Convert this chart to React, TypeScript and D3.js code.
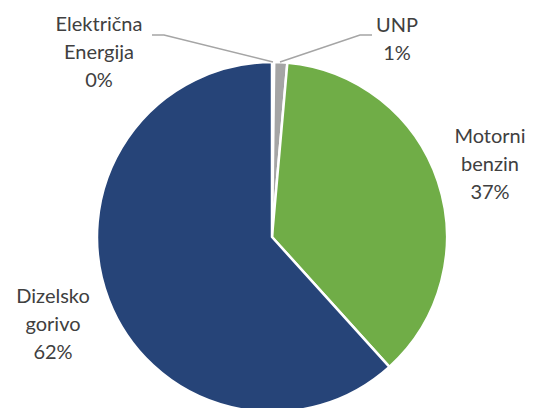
import React from "react";
import * as d3 from "d3";

const categories = ["Električna Energija", "UNP", "Motorni benzin", "Dizelsko gorivo"];
const values = [0.2, 1.2, 36.9, 61.7];
const colors = ["#A5A5A5", "#A5A5A5", "#70AD47", "#264478"];
const labelLines = [["Električna", "Energija"], ["UNP"], ["Motorni", "benzin"], ["Dizelsko", "gorivo"]];
const labelPos = [[99, 31], [397, 32], [490, 143], [53, 303]];

export default function App() {
  const W = 539, H = 408;
  const cx = 272, cy = 237, r = 175;
  const total = d3.sum(values);
  const pie = d3.pie<number>().sort(null).value((d) => d);
  const arcs = pie(values);
  const arcGen = d3.arc<d3.PieArcDatum<number>>().innerRadius(0).outerRadius(r);
  const lh = 28;
  return (
    <svg width={W} height={H} style={{ position: "absolute", left: 0, top: 0 }}>
      <g transform={`translate(${cx},${cy})`}>
        {arcs.map((a, i) => (
          <path key={i} d={arcGen(a) || ""} fill={colors[i]} stroke="#fff" strokeWidth={2.5} strokeLinejoin="round" />
        ))}
      </g>
      <polyline points="152,35 164,35 273,62" fill="none" stroke="#A5A5A5" strokeWidth={1.5} />
      <polyline points="280,62 360,35 372,35" fill="none" stroke="#A5A5A5" strokeWidth={1.5} />
      {labelLines.map((lines, i) => {
        const [x, y] = labelPos[i];
        const pct = Math.round((values[i] / total) * 100) + "%";
        const all = [...lines, pct];
        return (
          <text key={i} x={x} y={y} textAnchor="middle" fontFamily="Lato, 'Open Sans', sans-serif" fontSize={20} fill="#404040">
            {all.map((t, j) => (
              <tspan key={j} x={x} dy={j === 0 ? 0 : lh}>{t}</tspan>
            ))}
          </text>
        );
      })}
    </svg>
  );
}
